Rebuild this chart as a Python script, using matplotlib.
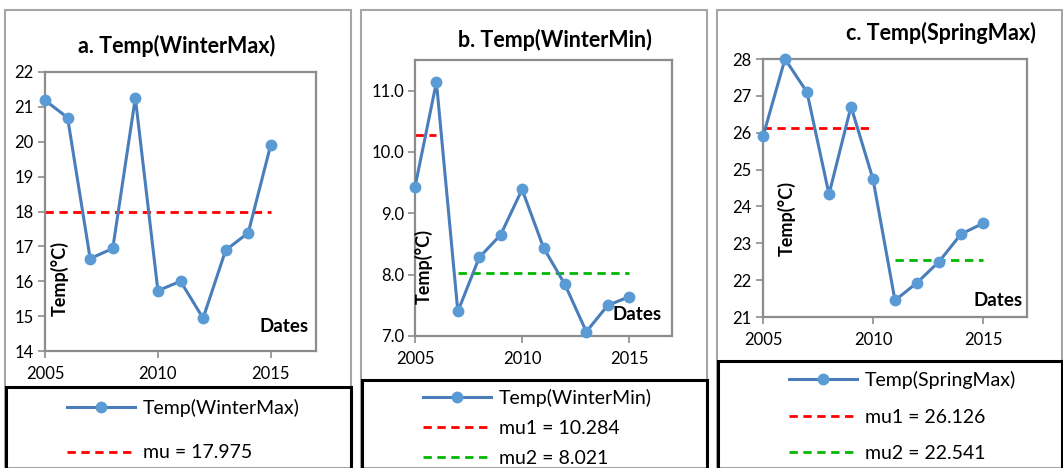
"""
Three panels of seasonal temperature series with segment means.
"""
import matplotlib
matplotlib.use("Agg")
import matplotlib.pyplot as plt
from matplotlib.patches import Rectangle

plt.rcParams["font.family"] = ["Lato", "DejaVu Sans"]

years = list(range(2005, 2016))

winter_max = [21.19, 20.69, 16.65, 16.94, 21.26, 15.73, 16.00, 14.94, 16.89, 17.39, 19.92]
winter_min = [9.43, 11.14, 7.40, 8.28, 8.65, 9.39, 8.44, 7.84, 7.07, 7.50, 7.64]
spring_max = [25.90, 28.00, 27.10, 24.33, 26.71, 24.74, 21.45, 21.93, 22.50, 23.25, 23.54]

# (label, value, first year, last year, colour)
means_a = [("mu = 17.975", 17.975, 2005, 2015, "#FF0000")]
means_b = [("mu1 = 10.284", 10.284, 2005, 2006, "#FF0000"),
           ("mu2 = 8.021", 8.021, 2007, 2015, "#00B800")]
means_c = [("mu1 = 26.126", 26.126, 2005, 2010, "#FF0000"),
           ("mu2 = 22.541", 22.541, 2011, 2015, "#00B800")]

LINE_C = "#4A7EBB"
MARK_C = "#5B9BD5"
SPINE_C = "#8C8C8C"

W, H = 1063, 468
fig = plt.figure(figsize=(W / 100, H / 100), dpi=100)


def fx(px):
    return px / W


def fy(py):
    return 1 - py / H


panels = [
    dict(name="a. Temp(WinterMax)", series="Temp(WinterMax)", y=winter_max, means=means_a,
         outer=(5, 10, 351), leg_top=387, axes=(45, 72, 316, 351), ylim=(14, 22),
         yticks=range(14, 23), yfmt="{:.0f}", title=(177, 46),
         ylab=(60, 278), dates=(309, 327), leg=(67, 399), spacing=1.41),
    dict(name="b. Temp(WinterMin)", series="Temp(WinterMin)", y=winter_min, means=means_b,
         outer=(361, 10, 707), leg_top=380, axes=(415, 60, 672, 336), ylim=(7, 11.5),
         yticks=[7, 8, 9, 10, 11], yfmt="{:.1f}", title=(555, 40),
         ylab=(424, 267), dates=(662, 315), leg=(423, 389), spacing=0.66),
    dict(name="c. Temp(SpringMax)", series="Temp(SpringMax)", y=spring_max, means=means_c,
         outer=(717, 10, 1062), leg_top=361, axes=(763, 59, 1027, 317), ylim=(21, 28),
         yticks=range(21, 29), yfmt="{:.0f}", title=(941, 33),
         ylab=(787, 218), dates=(1023, 301), leg=(789, 371), spacing=1.0),
]

for p in panels:
    x0, y0, x1, y1 = p["axes"]
    ax = fig.add_axes([fx(x0), fy(y1), fx(x1 - x0), (y1 - y0) / H])

    series_line, = ax.plot(years, p["y"], color=LINE_C, linewidth=2.2, marker="o",
                           markersize=7.5, markerfacecolor=MARK_C, markeredgecolor=MARK_C,
                           label=p["series"], clip_on=False, zorder=3)
    handles = [series_line]
    for label, val, ya, yb, col in p["means"]:
        h, = ax.plot([ya, yb], [val, val], color=col, linestyle=(0, (3, 2)),
                     linewidth=2.0, label=label, zorder=2)
        handles.append(h)

    ax.set_xlim(2005, 2017)
    ax.set_ylim(*p["ylim"])
    ax.set_xticks([2005, 2010, 2015])
    ax.set_yticks(list(p["yticks"]))
    ax.set_yticklabels([p["yfmt"].format(v) for v in p["yticks"]])
    ax.tick_params(axis="both", labelsize=12, length=5, width=1.2, color=SPINE_C,
                   direction="out", pad=3)
    ax.tick_params(axis="x", pad=6)
    for s in ax.spines.values():
        s.set_color(SPINE_C)
        s.set_linewidth(1.6)

    fig.text(fx(p["title"][0]), fy(p["title"][1]), p["name"], fontsize=15.5,
             fontweight="bold", ha="center", va="center")
    fig.text(fx(p["ylab"][0]), fy(p["ylab"][1]), "Temp(\u00b0C)", fontsize=13,
             fontweight="bold", rotation=90, ha="center", va="center")
    fig.text(fx(p["dates"][0]), fy(p["dates"][1]), "Dates", fontsize=13.5,
             fontweight="bold", ha="right", va="center")

    ox0, oy0, ox1 = p["outer"]
    fig.patches.append(Rectangle((fx(ox0), 0), fx(ox1 - ox0), fy(oy0),
                                 transform=fig.transFigure, fill=False,
                                 edgecolor="#A6A6A6", linewidth=1.5, zorder=0))
    fig.patches.append(Rectangle((fx(ox0 + 1), -0.01), fx(ox1 - ox0 - 1), fy(p["leg_top"]) + 0.01,
                                 transform=fig.transFigure, fill=False,
                                 edgecolor="black", linewidth=2.2, zorder=1))

    fig.legend(handles=handles, loc="upper left",
               bbox_to_anchor=(fx(p["leg"][0]), fy(p["leg"][1])),
               bbox_transform=fig.transFigure, frameon=False, fontsize=14,
               borderpad=0, borderaxespad=0,
               handlelength=3.5, handletextpad=0.4, labelspacing=p["spacing"])

fig.savefig("out.png", dpi=100)
